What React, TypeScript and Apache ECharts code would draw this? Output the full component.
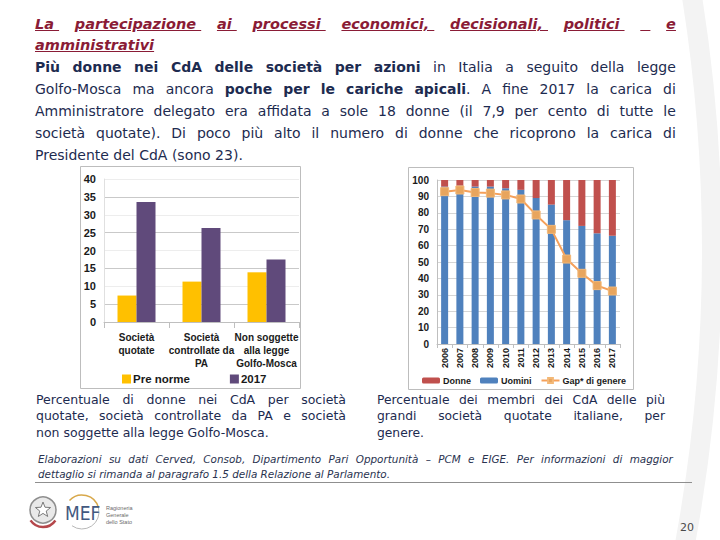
import React, { useEffect, useRef } from "react";
import * as echarts from "echarts";

// ---------- data ----------
const leftCategories = ["Società\nquotate", "Società\ncontrollate da\nPA", "Non soggette\nalla legge\nGolfo-Mosca"];
const preNorme = [7.4, 11.3, 13.9];
const anno2017 = [33.6, 26.3, 17.5];

const years = ["2006", "2007", "2008", "2009", "2010", "2011", "2012", "2013", "2014", "2015", "2016", "2017"];
const uomini = [96, 96.5, 96, 96, 95, 94, 89, 85, 75.5, 72, 67.5, 66];
const donne = [4, 3.5, 4, 4, 5, 6, 11, 15, 24.5, 28, 32.5, 34];
const gapGenere = [92.9, 93.9, 92.4, 92, 90.9, 88.4, 78.7, 69.9, 51.8, 43.1, 35.6, 32.3];

type Seg = { t: string; b?: boolean };

const titleLine1: Seg[] = [
  { t: "La\u00A0 partecipazione\u00A0 ai\u00A0 processi\u00A0 economici,\u00A0 decisionali,\u00A0 politici\u00A0 \u00A0\u00A0 e" },
];
const titleLine2 = "amministrativi";

const bodyLines: Seg[][] = [
  [{ t: "Più donne nei CdA delle società per azioni", b: true }, { t: " in Italia a seguito della legge" }],
  [{ t: "Golfo-Mosca ma ancora " }, { t: "poche per le cariche apicali", b: true }, { t: ". A fine 2017 la carica di" }],
  [{ t: "Amministratore delegato era affidata a sole 18 donne (il 7,9 per cento di tutte le" }],
  [{ t: "società quotate). Di poco più alto il numero di donne che ricoprono la carica di" }],
];
const bodyLast = "Presidente del CdA (sono 23).";

const capLeft = [
  "Percentuale di donne nei CdA per società",
  "quotate, società controllate da PA e società",
];
const capLeftLast = "non soggette alla legge Golfo-Mosca.";
const capRight = ["Percentuale dei membri dei CdA delle più", "grandi società quotate italiane, per"];
const capRightLast = "genere.";

const foot1 = "Elaborazioni su dati Cerved, Consob, Dipartimento Pari Opportunità – PCM e EIGE. Per informazioni di maggior";
const foot2 = "dettaglio si rimanda al paragrafo 1.5 della Relazione al Parlamento.";

// ---------- helpers ----------
function toWords(segs: Seg[]) {
  const words: Seg[][] = [];
  let cur: Seg[] = [];
  for (const s of segs) {
    const parts = s.t.split(" ");
    parts.forEach((p, i) => {
      if (i > 0) {
        if (cur.length) words.push(cur);
        cur = [];
      }
      if (p) cur.push({ t: p, b: s.b });
    });
  }
  if (cur.length) words.push(cur);
  return words;
}

function JustLine({ segs, style, wordStyle }: { segs: Seg[]; style?: React.CSSProperties; wordStyle?: React.CSSProperties }) {
  const words = toWords(segs);
  return (
    <div style={{ display: "flex", justifyContent: "space-between", whiteSpace: "nowrap", ...style }}>
      {words.map((w, i) => (
        <span key={i} style={wordStyle}>
          {w.map((p, j) => (
            <span key={j} style={{ fontWeight: p.b ? 700 : "inherit" }}>
              {p.t}
            </span>
          ))}
        </span>
      ))}
    </div>
  );
}

const FONT = '"DejaVu Sans", Verdana, sans-serif';
const CFONT = '"Liberation Sans", Arial, sans-serif';
const NAVY = "#1d2b50";
const RED = "#8a1c36";

export default function App() {
  const ref = useRef<HTMLDivElement>(null);

  useEffect(() => {
    if (!ref.current) return;
    const chart = echarts.init(ref.current, undefined, { renderer: "svg" });

    const starPts: number[][] = [];
    for (let i = 0; i < 10; i++) {
      const a = -Math.PI / 2 + (i * Math.PI) / 5;
      const r = i % 2 === 0 ? 8 : 3.4;
      starPts.push([43 + r * Math.cos(a), 510 + r * Math.sin(a)]);
    }

    const labelStyle = { color: "#1a1a1a", fontWeight: "bold" as const, fontFamily: CFONT };

    chart.setOption({
      animation: false,
      backgroundColor: "#ffffff",
      graphic: [
        {
          type: "arc",
          z: -20,
          shape: { cx: -900, cy: 250, r: 1612, startAngle: -0.2, endAngle: 0.2 },
          style: { stroke: "#f3f3f3", lineWidth: 20, fill: null },
        },
        {
          type: "rect",
          z: -10,
          shape: { x: 80.5, y: 166.5, width: 220, height: 222 },
          style: { fill: "#ffffff", stroke: "#bdbdbd", lineWidth: 1 },
        },
        {
          type: "rect",
          z: -10,
          shape: { x: 408.5, y: 167.5, width: 225, height: 222 },
          style: { fill: "#ffffff", stroke: "#bdbdbd", lineWidth: 1 },
        },
        {
          type: "line",
          shape: { x1: 35, y1: 482.5, x2: 692, y2: 482.5 },
          style: { stroke: "#8f8f8f", lineWidth: 1 },
        },
        // emblem
        {
          type: "circle",
          shape: { cx: 43, cy: 510, r: 13 },
          style: { fill: "#e9e9e9", stroke: "#8e8e8e", lineWidth: 1.5 },
        },
        {
          type: "polygon",
          shape: { points: starPts },
          style: { fill: "#ffffff", stroke: "#7a7a7a", lineWidth: 1 },
        },
        {
          type: "arc",
          shape: { cx: 43, cy: 512, r: 15, startAngle: 0.6, endAngle: 2.55 },
          style: { stroke: "#b5474b", lineWidth: 2.5, fill: null },
        },
        // MEF logo
        {
          type: "arc",
          shape: { cx: 82, cy: 512, r: 17, startAngle: -2.4, endAngle: -0.25 },
          style: { stroke: "#d8a84a", lineWidth: 1.5, fill: null },
        },
        {
          type: "arc",
          shape: { cx: 82, cy: 512, r: 17, startAngle: -0.25, endAngle: 2.2 },
          style: { stroke: "#b8b8b8", lineWidth: 1, fill: null },
        },
        {
          type: "text",
          style: {
            x: 65,
            y: 513,
            text: "MEF",
            fill: "#43597f",
            font: '300 19px "DejaVu Sans Condensed", "DejaVu Sans", sans-serif',
            textVerticalAlign: "middle",
          },
        },
        {
          type: "text",
          style: {
            x: 106,
            y: 504,
            text: "Ragioneria\nGenerale\ndello Stato",
            fill: "#6a6a6a",
            fontSize: 5.5,
            lineHeight: 7,
            fontFamily: CFONT,
          },
        },
        {
          type: "text",
          style: {
            x: 687,
            y: 527,
            text: "20",
            fill: "#4a4a4a",
            fontSize: 11,
            fontFamily: FONT,
            textAlign: "center",
            textVerticalAlign: "middle",
          },
        },
      ],
      legend: [
        {
          data: ["Pre norme", "2017"],
          left: 122,
          top: 373,
          padding: 0,
          itemWidth: 9,
          itemHeight: 9,
          itemGap: 40,
          icon: "rect",
          textStyle: { ...labelStyle, fontSize: 11.5, padding: [0, 0, 0, -3] },
        },
        {
          data: ["Donne", "Uomini", "Gap* di genere"],
          left: 422,
          top: 376,
          padding: 0,
          itemWidth: 18,
          itemHeight: 6,
          itemGap: 9,
          textStyle: { ...labelStyle, fontSize: 9, padding: [0, 0, 0, -2] },
        },
      ],
      grid: [
        { left: 104, top: 179, width: 195, height: 143, outerBoundsMode: "none", containLabel: false },
        { left: 437, top: 180, width: 183, height: 164, outerBoundsMode: "none", containLabel: false },
      ],
      xAxis: [
        {
          gridIndex: 0,
          type: "category",
          data: leftCategories,
          axisLine: { lineStyle: { color: "#bfbfbf" } },
          axisTick: { show: true, length: 6, lineStyle: { color: "#bfbfbf" } },
          axisLabel: { ...labelStyle, interval: 0, fontSize: 10, lineHeight: 13, margin: 9 },
        },
        {
          gridIndex: 1,
          type: "category",
          data: years,
          axisLine: { lineStyle: { color: "#bfbfbf" } },
          axisTick: { show: true, length: 4, lineStyle: { color: "#bfbfbf" } },
          axisLabel: { ...labelStyle, interval: 0, fontSize: 9, rotate: 90, margin: 4 },
        },
      ],
      yAxis: [
        {
          gridIndex: 0,
          type: "value",
          min: 0,
          max: 40,
          interval: 5,
          axisLine: { show: true, lineStyle: { color: "#e0e0e0" } },
          axisTick: { show: false },
          axisLabel: { ...labelStyle, fontSize: 11, margin: 8 },
          splitLine: { lineStyle: { color: ["#ededed", "#c9c9c9"] } },
        },
        {
          gridIndex: 1,
          type: "value",
          min: 0,
          max: 100,
          interval: 10,
          axisLine: { show: true, lineStyle: { color: "#bfbfbf" } },
          axisTick: { show: false },
          axisLabel: { ...labelStyle, fontSize: 10, margin: 8 },
          splitLine: { lineStyle: { color: "#d6d6d6" } },
        },
      ],
      series: [
        {
          name: "Pre norme",
          type: "bar",
          xAxisIndex: 0,
          yAxisIndex: 0,
          data: preNorme,
          barWidth: 19,
          barGap: "0%",
          itemStyle: { color: "#FFC000" },
        },
        {
          name: "2017",
          type: "bar",
          xAxisIndex: 0,
          yAxisIndex: 0,
          data: anno2017,
          barWidth: 19,
          barGap: "0%",
          itemStyle: { color: "#604A7B" },
        },
        {
          name: "Uomini",
          type: "bar",
          stack: "cda",
          xAxisIndex: 1,
          yAxisIndex: 1,
          data: uomini,
          barWidth: 7,
          itemStyle: { color: "#4F81BD" },
        },
        {
          name: "Donne",
          type: "bar",
          stack: "cda",
          xAxisIndex: 1,
          yAxisIndex: 1,
          data: donne,
          barWidth: 7,
          itemStyle: { color: "#C0504D" },
        },
        {
          name: "Gap* di genere",
          type: "line",
          xAxisIndex: 1,
          yAxisIndex: 1,
          data: gapGenere,
          symbol: "rect",
          symbolSize: 8,
          lineStyle: { color: "#F5A05A", width: 2 },
          itemStyle: { color: "#E8A55E", borderColor: "#F3B877", borderWidth: 1 },
          z: 5,
        },
      ],
    });
    return () => chart.dispose();
  }, []);

  const abs = (left: number, top: number, width: number): React.CSSProperties => ({
    position: "absolute",
    left,
    top,
    width,
  });

  return (
    <div style={{ position: "absolute", left: 0, top: 0, width: 720, height: 540, overflow: "hidden", background: "#fff" }}>
      <div ref={ref} style={{ position: "absolute", left: 0, top: 0, width: 720, height: 540 }} />
      <div style={{ position: "absolute", left: 0, top: 0, width: 720, height: 540, pointerEvents: "none" }}>
        {/* title */}
        <div
          style={{
            ...abs(35, 14, 641),
            fontFamily: FONT,
            fontSize: 14.5,
            fontWeight: 700,
            fontStyle: "italic",
            color: RED,
            lineHeight: "21px",
          }}
        >
          <JustLine segs={titleLine1} wordStyle={{ textDecoration: "underline" }} />
          <div style={{ textDecoration: "underline" }}>{titleLine2}</div>
        </div>
        {/* body */}
        <div style={{ ...abs(35, 56, 641), fontFamily: FONT, fontSize: 14, color: NAVY, lineHeight: "22px" }}>
          {bodyLines.map((l, i) => (
            <JustLine key={i} segs={l} />
          ))}
          <div>{bodyLast}</div>
        </div>
        {/* captions */}
        <div style={{ ...abs(36, 391.5, 310), fontFamily: FONT, fontSize: 12.5, color: NAVY, lineHeight: "16.5px" }}>
          {capLeft.map((l, i) => (
            <JustLine key={i} segs={[{ t: l }]} />
          ))}
          <div>{capLeftLast}</div>
        </div>
        <div style={{ ...abs(377, 391.5, 288), fontFamily: FONT, fontSize: 12.3, color: NAVY, lineHeight: "16.5px" }}>
          {capRight.map((l, i) => (
            <JustLine key={i} segs={[{ t: l }]} />
          ))}
          <div>{capRightLast}</div>
        </div>
        {/* footnote */}
        <div
          style={{
            ...abs(38, 451.5, 635),
            fontFamily: FONT,
            fontSize: 10.4,
            fontStyle: "italic",
            color: "#2a3350",
            lineHeight: "15px",
          }}
        >
          <JustLine segs={[{ t: foot1 }]} />
          <div>{foot2}</div>
        </div>
      </div>
    </div>
  );
}
